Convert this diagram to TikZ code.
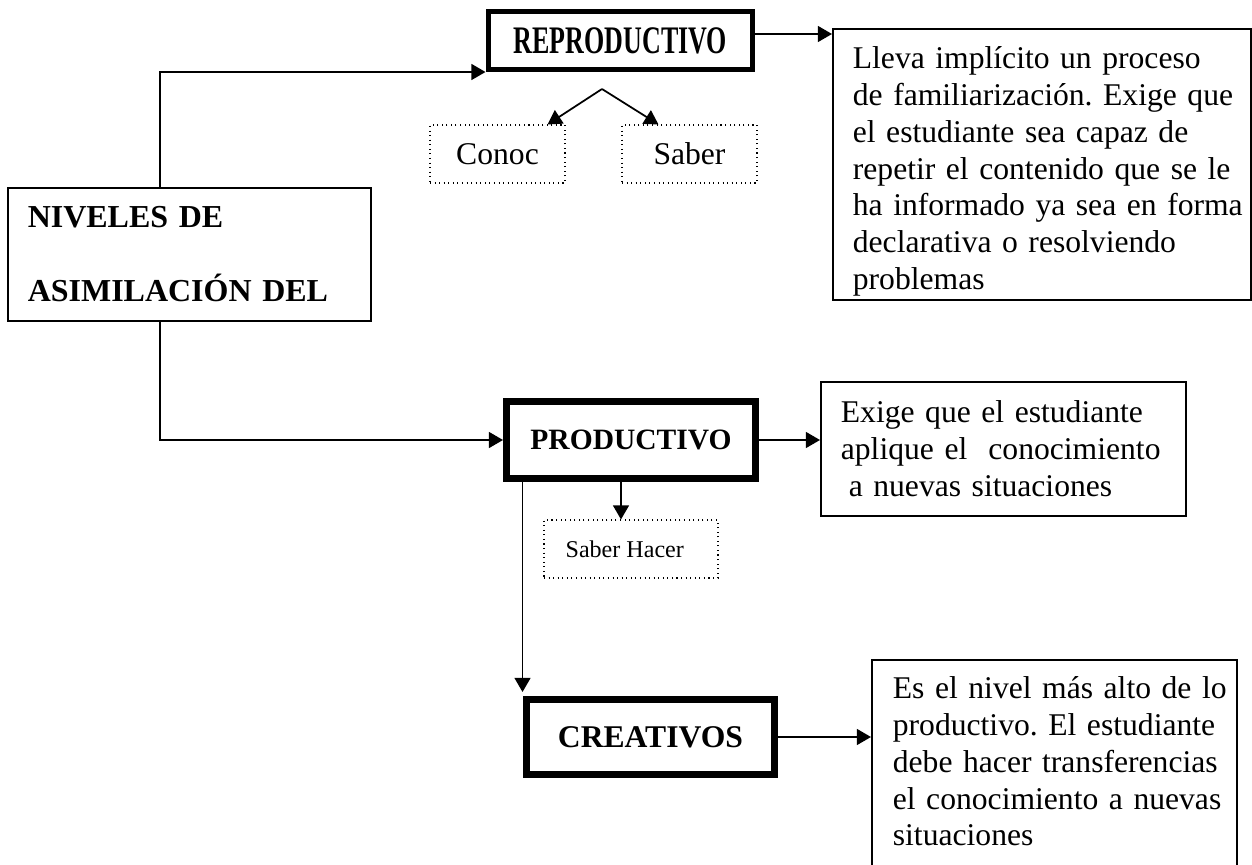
\documentclass[tikz,border=0pt]{standalone}
\usepackage{fontspec}
\setmainfont{Liberation Serif}
\usetikzlibrary{arrows.meta}
\newcommand\nohyph{\hyphenpenalty=10000\relax}
\newcommand\loosewidth{\rightskip=-1cm plus 1fil\relax}

\begin{document}
\begin{tikzpicture}[x=0.02cm,y=-0.02cm,
    conn/.style={line width=1pt,-{Triangle[length=8pt,width=9pt]}},
    thinbox/.style={draw,line width=1pt,inner sep=0pt},
    thickbox/.style={draw,line width=0.14cm,inner sep=0pt,font=\fontsize{18}{21}\selectfont\bfseries},
    dotbox/.style={draw,dotted,line width=0.6pt,inner sep=0pt,minimum height=1.16cm},
    descbox/.style={draw,line width=1pt,anchor=north west,align=left,inner xsep=0.4cm,inner ysep=0pt,
      font=\fontsize{18}{20.9}\selectfont\frenchspacing\nohyph}]
  \useasboundingbox (0,0) rectangle (1252,865);
  \clip (0,0) rectangle (1252,865);
  \node[thinbox,minimum width=7.27cm,minimum height=2.67cm,text width=6.47cm,align=left,inner xsep=0.4cm,font=\fontsize{18.2}{42.1}\selectfont\bfseries] (niv) at (189.5,254.5) {NIVELES DE\\ASIMILACIÓN DEL};
  \node[thickbox,line width=0.1cm,minimum width=5.3cm,minimum height=1.16cm,font=\fontsize{14.8}{17}\selectfont\bfseries] (repro) at (620.5,40.5) {\scalebox{1}[1.5]{REPRODUCTIVO}};
  \node[thickbox,minimum width=4.98cm,minimum height=1.54cm,font=\fontsize{16.8}{20}\selectfont\bfseries] (prod) at (631,440) {PRODUCTIVO};
  \node[thickbox,minimum width=4.98cm,minimum height=1.52cm] (creat) at (650.5,737) {CREATIVOS};
  \node[dotbox,minimum width=2.7cm,font=\fontsize{18}{20}\selectfont] (conoc) at (497.5,154) {Conoc};
  \node[dotbox,minimum width=2.7cm,font=\fontsize{18}{20}\selectfont] (saber) at (689.5,154) {Saber};
  \node[dotbox,minimum width=3.48cm,font=\fontsize{13.7}{16}\selectfont] (hacer) at (631,549) {Saber Hacer\hspace*{0.25cm}};
  \node[descbox,text width=7.56cm,text height=0.8cm,text depth=4.62cm] (lleva) at (832,28) {\loosewidth Lleva implícito un proceso\\de familiarización. Exige que\\el estudiante sea capaz de\\repetir el contenido que se le\\ha informado ya sea en forma\\declarativa o resolviendo\\problemas};
  \node[descbox,text width=6.5cm,text height=0.82cm,text depth=1.86cm] (exige) at (820,381) {\loosewidth Exige que el estudiante\\aplique el\ \ conocimiento\\\hspace*{0.25em}a nuevas situaciones};
  \node[descbox,text width=6.46cm,inner xsep=0.42cm,text height=0.78cm,text depth=4.4cm] (es) at (871,659) {\loosewidth Es el nivel más alto de lo\\productivo. El estudiante\\debe hacer transferencias\\el conocimiento a nuevas\\situaciones};
  \coordinate (fork) at (602,89);
  \coordinate (r1) at ([yshift=0.13cm]repro.east);
  \draw[conn] ([xshift=-0.59cm]niv.north) |- (repro.south west);
  \draw[conn] ([xshift=-0.59cm]niv.south) |- (prod.west);
  \draw[conn] (r1) -- (r1 -| lleva.west);
  \draw[conn] (fork) -- ([xshift=-0.36cm]conoc.north east);
  \draw[conn] (fork) -- ([xshift=0.74cm]saber.north west);
  \draw[conn] (prod.east) -- (prod.east -| exige.west);
  \draw[conn] ([xshift=-0.2cm]prod.south) -- ([xshift=-0.2cm]hacer.north);
  \draw[conn,shorten >=0.07cm] (creat.north west |- prod.south) -- (creat.north west);
  \draw[conn] (creat.east) -- (creat.east -| es.west);
\end{tikzpicture}
\end{document}
